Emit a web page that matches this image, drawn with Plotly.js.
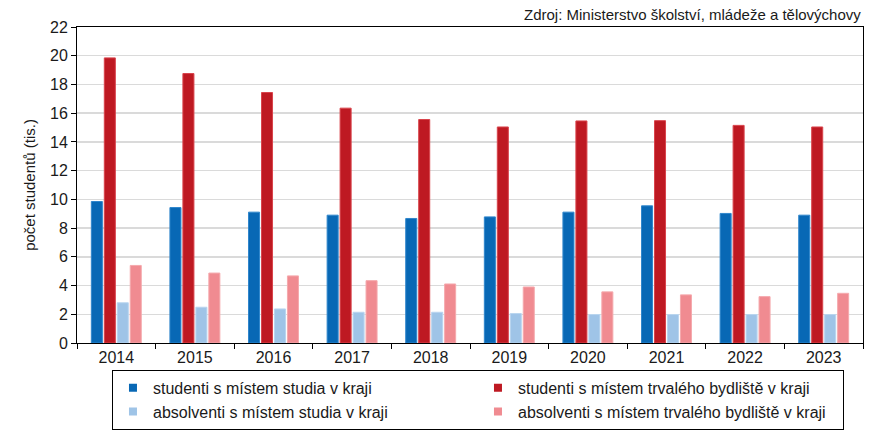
<!DOCTYPE html>
<html>
<head>
<meta charset="utf-8">
<script src="https://cdn.plot.ly/plotly-3.0.1.min.js"></script>
<style>html,body{margin:0;padding:0;background:#fff;}#chart{width:886px;height:445px;}</style>
</head>
<body>
<div id="chart"></div>
<script>
const years = ["2014","2015","2016","2017","2018","2019","2020","2021","2022","2023"];
const studentiStudium = [9.85, 9.43, 9.11, 8.90, 8.67, 8.78, 9.11, 9.55, 9.02, 8.90];
const studentiBydliste = [19.85, 18.76, 17.44, 16.35, 15.56, 15.04, 15.46, 15.48, 15.15, 15.04];
const absolventiStudium = [2.80, 2.49, 2.37, 2.14, 2.14, 2.05, 1.98, 1.98, 1.98, 1.98];
const absolventiBydliste = [5.40, 4.87, 4.67, 4.34, 4.11, 3.90, 3.56, 3.35, 3.23, 3.46];
const names = [
  "studenti s místem studia v kraji",
  "studenti s místem trvalého bydliště v kraji",
  "absolventi s místem studia v kraji",
  "absolventi s místem trvalého bydliště v kraji"
];
const colors = ["#0868b5", "#be1922", "#9fc4e7", "#f08b91"];
const edges = ["#2f86cc", "#d9444c", "#b9d5ef", "#f5a9ad"];
const series = [studentiStudium, studentiBydliste, absolventiStudium, absolventiBydliste];

const traces = series.map((vals, i) => ({
  type: "bar",
  x: years,
  y: vals,
  name: names[i],
  showlegend: false,
  marker: {color: colors[i], line: {color: edges[i], width: 1}},
  hoverinfo: "skip"
}));
// legend entries with small square swatches (as in the reference)
names.forEach((n, i) => {
  traces.push({
    type: "scatter", mode: "markers",
    x: [null], y: [null],
    name: n,
    marker: {symbol: "square", size: 8, color: colors[i]},
    hoverinfo: "skip"
  });
});

const fam = "Liberation Sans, Arial, sans-serif";
const font = {family: fam, size: 16, color: "#1a1a1a"};

const layout = {
  width: 886, height: 445,
  margin: {l: 77, r: 23, t: 27, b: 102},
  paper_bgcolor: "#fff", plot_bgcolor: "#fff",
  font: font,
  barmode: "group",
  bargap: 0.34,
  bargroupgap: 0.15,
  showlegend: true,
  legend: {
    orientation: "h",
    x: 0.0445, xanchor: "left",
    y: -0.085, yanchor: "top",
    bordercolor: "#000", borderwidth: 1,
    font: {family: fam, size: 16, color: "#1a1a1a"},
    entrywidth: 320,
    traceorder: "normal"
  },
  xaxis: {
    type: "category",
    showline: true, linecolor: "#000", linewidth: 1, mirror: true,
    ticks: "outside", tickson: "boundaries", ticklen: 5, tickcolor: "#000",
    showgrid: false,
    tickfont: font
  },
  yaxis: {
    range: [0, 22], dtick: 2,
    showline: true, linecolor: "#000", linewidth: 1, mirror: true,
    ticks: "outside", ticklen: 5, tickcolor: "#000",
    showgrid: true, gridcolor: "#dadada", gridwidth: 1.5,
    zeroline: false,
    tickfont: font,
    title: {text: "počet studentů (tis.)", font: {family: fam, size: 15, color: "#1a1a1a"}, standoff: 10}
  },
  annotations: [{
    text: "Zdroj: Ministerstvo školství, mládeže a tělovýchovy",
    xref: "paper", yref: "paper", x: 1, y: 1, xanchor: "right", yanchor: "bottom",
    yshift: 2, showarrow: false,
    font: {family: fam, size: 15, color: "#1a1a1a"}
  }]
};

Plotly.newPlot("chart", traces, layout, {displayModeBar: false, staticPlot: true});
</script>
</body>
</html>
